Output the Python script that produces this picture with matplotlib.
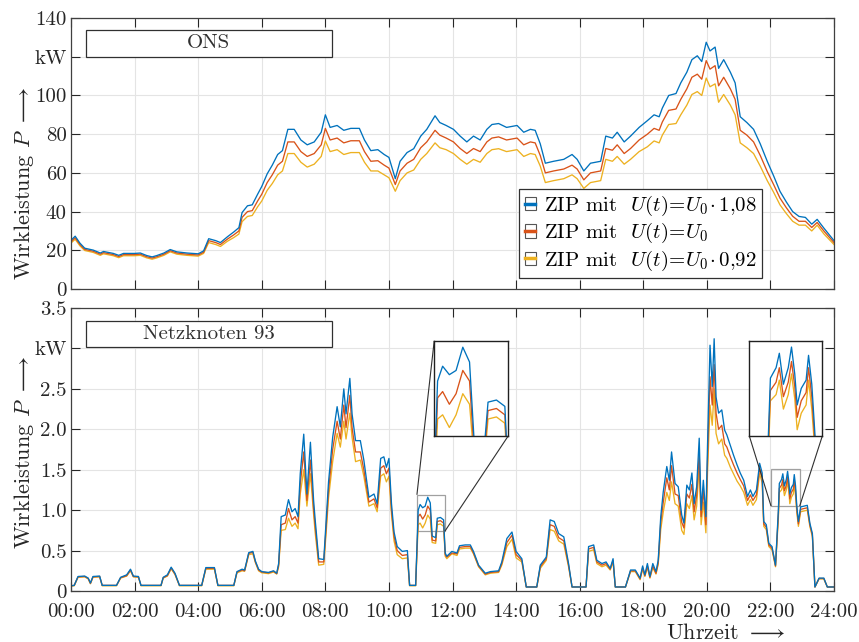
import matplotlib
matplotlib.use("Agg")
import matplotlib.pyplot as plt
from matplotlib.patches import Rectangle
from matplotlib.lines import Line2D
from matplotlib.legend_handler import HandlerBase
from mpl_toolkits.axes_grid1.inset_locator import mark_inset

plt.rcParams['font.family'] = 'cmr10'
plt.rcParams['mathtext.fontset'] = 'cm'
plt.rcParams['axes.unicode_minus'] = False
plt.rcParams['axes.formatter.use_mathtext'] = True

BLAU = '#0072BD'
ORANGE = '#D95319'
GELB = '#EDB120'

# --- ONS (oben), Zeit in Stunden, Leistung in kW ---
ons_t = [0, 0.13, 0.28, 0.43, 0.7, 0.92, 1.02, 1.33, 1.5, 1.65, 2.0, 2.18, 2.38, 2.55, 2.7, 2.92,
         3.12, 3.33, 3.65, 4.0, 4.17, 4.33, 4.55, 4.7, 4.92, 5.12, 5.28, 5.38, 5.55, 5.7, 5.87, 6.0,
         6.17, 6.33, 6.5, 6.65, 6.82, 7.02, 7.23, 7.43, 7.65, 7.87, 8.0, 8.15, 8.37, 8.58, 8.8, 9.07,
         9.23, 9.43, 9.65, 9.85, 10.0, 10.2, 10.35, 10.57, 10.78, 11.0, 11.19, 11.45, 11.6, 11.8, 12.03, 12.24,
         12.45, 12.66, 12.87, 13.08, 13.24, 13.45, 13.7, 14.03, 14.24, 14.45, 14.6, 14.76, 14.92, 15.18, 15.5, 15.76,
         15.92, 16.13, 16.34, 16.66, 16.82, 17.03, 17.18, 17.4, 17.6, 17.87, 18.13, 18.34, 18.5, 18.6, 18.8, 19.03,
         19.18, 19.37, 19.53, 19.7, 19.84, 19.98, 20.1, 20.26, 20.37, 20.53, 20.74, 20.89, 21.05, 21.26, 21.47, 21.68,
         21.9, 22.1, 22.3, 22.5, 22.7, 22.9, 23.1, 23.3, 23.47, 23.68, 24.0]
ons_u108 = [25.2, 27.3, 23.7, 21.1, 20.1, 18.6, 19.4, 18.4, 17.4, 18.4, 18.4, 18.6, 17.3, 16.6, 17.3, 18.6,
            20.4, 19.2, 18.6, 18.2, 19.7, 26.0, 25.0, 24.0, 27.0, 29.5, 31.7, 39.5, 43.0, 43.5, 49, 53,
            59.5, 64, 69.5, 71.5, 82.5, 82.5, 77, 74.5, 76, 81, 90, 83.5, 84.5, 82, 83, 83,
            77, 71.5, 72, 69.5, 68, 57, 66, 70.5, 72.5, 79, 82.5, 89.5, 86, 84.5, 82.5, 79,
            76, 79, 77, 82.5, 85, 85.5, 83.5, 84.5, 81, 82.5, 82, 75, 65, 66, 67, 69.5,
            67, 61, 65, 66, 79, 78, 81, 76, 79, 83.5, 87, 90, 89, 93.5, 100, 101,
            106.5, 112, 118.5, 120.5, 117.5, 127.5, 123, 125, 114, 118.5, 112, 106.5, 89, 86, 82.5, 75,
            66, 58.5, 50.5, 45, 40, 37.5, 37, 33.5, 36, 31.5, 25]
ons_u100 = [24.5, 26.5, 23, 20.5, 19.5, 18, 18.8, 17.8, 16.8, 17.8, 17.8, 18, 16.7, 16, 16.7, 18,
            19.8, 18.6, 18, 17.6, 19, 25, 24, 23, 25.8, 28, 30, 37, 40, 40.5, 45.5, 49,
            55, 59, 64, 66, 76, 76, 71, 68.5, 70, 74.5, 83, 77, 78, 75.5, 76.6, 76.6,
            71, 66, 66.3, 64, 62.5, 54, 61, 65, 67, 73, 76, 82, 79.5, 78, 76, 72.6,
            70, 72.6, 71, 76, 78, 78.6, 77, 78, 74.5, 76, 75.5, 69, 60, 61, 62, 64,
            62, 56.4, 60, 61, 72.6, 71.7, 74.5, 70, 72.6, 77, 80, 83, 82, 86.3, 92.3, 93,
            98, 103.4, 109.4, 111, 108.4, 118, 113.6, 115.4, 105, 109.4, 103.4, 98, 82, 79.5, 76, 69,
            60.7, 54, 47, 42, 37.6, 35, 35, 31.8, 34.4, 30, 24]
ons_u092 = [23.8, 25.7, 22.3, 19.9, 18.9, 17.4, 18.2, 17.2, 16.2, 17.2, 17.2, 17.4, 16.1, 15.4, 16.1, 17.4,
            19.2, 18.0, 17.4, 17.0, 18.4, 24.0, 23.0, 22.0, 24.7, 26.6, 28.4, 34.8, 37.5, 38, 42.5, 45.5,
            51, 54.5, 59, 61, 70, 70, 65.5, 63, 64.5, 68.5, 76.5, 71, 72, 69.5, 70.5, 70.5,
            65.5, 61, 61, 59, 57.5, 50.5, 56, 60, 61.5, 67, 70, 75.5, 73, 72, 70, 67,
            64.5, 67, 65.5, 70, 72, 72.5, 71, 72, 68.5, 70, 69.5, 63.5, 55, 56, 57, 59,
            57, 52, 55, 56, 67, 66, 68.5, 64.5, 67, 71, 73.5, 76.5, 75.5, 79.5, 85, 85.5,
            90, 95, 100.5, 102, 100, 109, 104.5, 106, 96.5, 100.5, 95, 90, 75.5, 73, 70, 63.5,
            56, 50, 43.5, 39, 35, 33, 33, 30, 33, 28.5, 23]

# --- Netzknoten 93 (unten) ---
nk_t = [0.0, 0.1, 0.22, 0.43, 0.54, 0.61, 0.69, 0.9, 0.98, 1.43, 1.56, 1.75, 1.87, 1.96, 2.12, 2.2,
        2.83, 2.9, 3.03, 3.15, 3.27, 3.41, 4.11, 4.24, 4.51, 4.62, 5.12, 5.22, 5.38, 5.46, 5.59, 5.72,
        5.8, 5.9, 6.0, 6.21, 6.37, 6.47, 6.53, 6.61, 6.74, 6.84, 6.95, 7.05, 7.14, 7.21, 7.32, 7.42,
        7.53, 7.63, 7.68, 7.79, 7.95, 8.03, 8.1, 8.23, 8.37, 8.47, 8.58, 8.65, 8.77, 8.84, 8.95, 9.1,
        9.21, 9.37, 9.53, 9.63, 9.74, 9.84, 9.92, 10.0, 10.08, 10.16, 10.26, 10.42, 10.58, 10.65, 10.84, 10.92,
        10.98, 11.06, 11.14, 11.22, 11.3, 11.36, 11.47, 11.52, 11.62, 11.72, 11.77, 11.82, 11.98, 12.14, 12.22, 12.4,
        12.56, 12.66, 12.82, 13.03, 13.19, 13.45, 13.55, 13.71, 13.87, 14.0, 14.18, 14.32, 14.65, 14.76, 14.95, 15.07,
        15.2, 15.34, 15.5, 15.65, 15.76, 16.2, 16.28, 16.44, 16.54, 16.7, 16.83, 16.96, 17.05, 17.12, 17.44, 17.6,
        17.75, 17.9, 17.98, 18.05, 18.13, 18.21, 18.3, 18.4, 18.47, 18.55, 18.63, 18.74, 18.82, 18.89, 19.0, 19.1,
        19.21, 19.28, 19.37, 19.45, 19.53, 19.6, 19.68, 19.76, 19.82, 19.89, 19.97, 20.02, 20.1, 20.17, 20.23, 20.29,
        20.37, 20.47, 20.56, 20.63, 20.74, 20.84, 20.95, 21.05, 21.16, 21.28, 21.37, 21.45, 21.56, 21.66, 21.74, 21.79,
        21.87, 21.95, 22.05, 22.16, 22.25, 22.28, 22.35, 22.39, 22.44, 22.5, 22.54, 22.58, 22.61, 22.66, 22.72, 22.75,
        22.79, 22.83, 22.88, 22.95, 23.16, 23.24, 23.32, 23.4, 23.53, 23.68, 23.79, 24.0]
nk_u108 = [0.065, 0.07, 0.18, 0.185, 0.16, 0.10, 0.18, 0.185, 0.07, 0.07, 0.17, 0.2, 0.27, 0.185, 0.18, 0.07,
           0.07, 0.17, 0.2, 0.295, 0.22, 0.07, 0.07, 0.29, 0.29, 0.07, 0.07, 0.24, 0.27, 0.26, 0.475, 0.49,
           0.37, 0.27, 0.24, 0.23, 0.25, 0.22, 0.34, 0.92, 0.94, 1.13, 0.98, 1.02, 0.92, 1.45, 1.94, 1.2,
           1.84, 1.12, 0.88, 0.40, 0.39, 0.9, 1.35, 1.9, 2.28, 2.03, 2.5, 2.19, 2.63, 2.19, 1.86, 1.86,
           1.62, 1.16, 1.2, 1.08, 1.64, 1.66, 1.53, 1.64, 1.08, 0.73, 0.55, 0.49, 0.5, 0.07, 0.07, 1.0,
           1.07, 1.03, 1.05, 1.16, 1.09, 0.68, 0.66, 0.9, 0.91, 0.88, 0.47, 0.43, 0.49, 0.47, 0.56, 0.57,
           0.57, 0.49, 0.32, 0.22, 0.24, 0.25, 0.36, 0.65, 0.73, 0.49, 0.4, 0.05, 0.05, 0.32, 0.42, 0.88,
           0.86, 0.71, 0.67, 0.34, 0.05, 0.05, 0.55, 0.57, 0.38, 0.34, 0.36, 0.28, 0.40, 0.05, 0.05, 0.26,
           0.26, 0.16, 0.31, 0.2, 0.34, 0.18, 0.34, 0.24, 0.38, 0.92, 1.23, 1.54, 1.37, 1.72, 1.33, 1.29,
           0.94, 0.84, 1.31, 1.25, 1.46, 1.08, 1.29, 1.89, 1.0, 1.37, 0.92, 1.78, 3.04, 2.53, 3.12, 2.4,
           2.2, 2.24, 1.99, 1.93, 1.8, 1.68, 1.56, 1.46, 1.37, 1.17, 1.25, 1.17, 1.25, 1.58, 1.46, 0.86,
           0.82, 0.59, 0.55, 0.32, 1.0, 1.33, 1.38, 1.45, 1.3, 1.38, 1.48, 1.35, 1.2, 1.28, 1.32, 1.44,
           1.3, 1.05, 0.86, 1.04, 1.06, 0.84, 0.71, 0.05, 0.16, 0.16, 0.05, 0.05]
nk_u100 = [0.065, 0.07, 0.175, 0.18, 0.155, 0.095, 0.175, 0.18, 0.07, 0.07, 0.165, 0.19, 0.26, 0.18, 0.175, 0.07,
           0.07, 0.165, 0.19, 0.285, 0.21, 0.07, 0.07, 0.28, 0.28, 0.07, 0.07, 0.235, 0.26, 0.25, 0.465, 0.48,
           0.36, 0.26, 0.235, 0.225, 0.245, 0.215, 0.32, 0.82, 0.84, 1.02, 0.88, 0.92, 0.84, 1.32, 1.72, 1.12,
           1.62, 1.02, 0.8, 0.36, 0.36, 0.82, 1.25, 1.75, 2.1, 1.88, 2.3, 2.02, 2.42, 2.02, 1.72, 1.72,
           1.5, 1.1, 1.14, 1.03, 1.52, 1.55, 1.45, 1.52, 1.0, 0.68, 0.5, 0.44, 0.45, 0.07, 0.07, 0.92,
           0.95, 0.89, 0.94, 1.05, 1.0, 0.63, 0.62, 0.86, 0.87, 0.84, 0.45, 0.42, 0.47, 0.46, 0.54, 0.55,
           0.55, 0.47, 0.31, 0.21, 0.23, 0.24, 0.34, 0.6, 0.69, 0.45, 0.38, 0.05, 0.05, 0.3, 0.4, 0.82,
           0.8, 0.66, 0.62, 0.32, 0.05, 0.05, 0.52, 0.54, 0.36, 0.32, 0.34, 0.27, 0.38, 0.05, 0.05, 0.25,
           0.25, 0.15, 0.29, 0.19, 0.31, 0.17, 0.31, 0.22, 0.35, 0.85, 1.1, 1.4, 1.25, 1.55, 1.2, 1.18,
           0.85, 0.78, 1.2, 1.15, 1.32, 0.98, 1.18, 1.7, 0.92, 1.25, 0.82, 1.6, 2.65, 2.3, 2.8, 2.2,
           2.0, 2.05, 1.82, 1.78, 1.66, 1.56, 1.46, 1.38, 1.3, 1.12, 1.19, 1.12, 1.19, 1.52, 1.4, 0.83,
           0.79, 0.57, 0.53, 0.31, 0.95, 1.27, 1.31, 1.38, 1.24, 1.31, 1.41, 1.29, 1.14, 1.22, 1.26, 1.38,
           1.24, 1.01, 0.83, 1.01, 1.03, 0.82, 0.69, 0.05, 0.155, 0.155, 0.05, 0.05]
nk_u092 = [0.06, 0.065, 0.17, 0.175, 0.15, 0.09, 0.17, 0.175, 0.065, 0.065, 0.16, 0.185, 0.25, 0.175, 0.17, 0.065,
           0.065, 0.16, 0.185, 0.275, 0.205, 0.065, 0.065, 0.27, 0.27, 0.065, 0.065, 0.225, 0.25, 0.245, 0.45, 0.46,
           0.35, 0.25, 0.225, 0.215, 0.235, 0.21, 0.3, 0.75, 0.76, 0.9, 0.8, 0.84, 0.77, 1.2, 1.5, 1.05,
           1.45, 0.95, 0.72, 0.32, 0.33, 0.75, 1.15, 1.6, 1.95, 1.78, 2.1, 1.88, 2.2, 1.9, 1.6, 1.62,
           1.42, 1.05, 1.08, 0.98, 1.42, 1.45, 1.35, 1.42, 0.95, 0.62, 0.45, 0.4, 0.41, 0.065, 0.065, 0.82,
           0.84, 0.78, 0.84, 0.94, 0.89, 0.6, 0.59, 0.82, 0.83, 0.8, 0.43, 0.4, 0.46, 0.44, 0.52, 0.53,
           0.53, 0.46, 0.3, 0.2, 0.22, 0.23, 0.32, 0.55, 0.64, 0.41, 0.36, 0.05, 0.05, 0.28, 0.38, 0.76,
           0.74, 0.62, 0.58, 0.3, 0.05, 0.05, 0.49, 0.51, 0.34, 0.3, 0.32, 0.26, 0.36, 0.05, 0.05, 0.24,
           0.24, 0.14, 0.27, 0.18, 0.29, 0.16, 0.29, 0.21, 0.33, 0.76, 0.98, 1.22, 1.12, 1.35, 1.08, 1.05,
           0.75, 0.7, 1.08, 1.02, 1.18, 0.88, 1.05, 1.55, 0.82, 1.1, 0.72, 1.45, 2.3, 2.05, 2.5, 1.95,
           1.82, 1.88, 1.68, 1.64, 1.53, 1.45, 1.36, 1.3, 1.22, 1.06, 1.13, 1.06, 1.13, 1.45, 1.34, 0.8,
           0.76, 0.55, 0.51, 0.3, 0.9, 1.22, 1.25, 1.32, 1.18, 1.25, 1.35, 1.23, 1.08, 1.16, 1.2, 1.32,
           1.18, 0.97, 0.8, 0.98, 1.0, 0.8, 0.67, 0.05, 0.15, 0.15, 0.05, 0.05]

stunden = list(range(0, 25, 2))
stunden_labels = ['%02d:00' % h for h in stunden]
ons_yticks = [0, 20, 40, 60, 80, 100, 120, 140]
ons_ylabels = ['0', '20', '40', '60', '80', '100', 'kW', '140']
nk_yticks = [0, 0.5, 1.0, 1.5, 2.0, 2.5, 3.0, 3.5]
nk_ylabels = ['0', '0.5', '1.0', '1.5', '2.0', '2.5', 'kW', '3.5']

legend_labels = [r'ZIP mit  $U(t)\!=\!U_0\!\cdot 1{,}08$',
                 r'ZIP mit  $U(t)\!=\!U_0$',
                 r'ZIP mit  $U(t)\!=\!U_0\!\cdot 0{,}92$']
farben = [BLAU, ORANGE, GELB]

FS = 15  # Schriftgroesse Ticks / Legende


class BoxHandler(HandlerBase):
    # kleines Kaestchen mit farbigem Strich, wie im MATLAB-Export
    def create_artists(self, legend, orig, xd, yd, w, h, fontsize, trans):
        r = Rectangle((-xd, -yd), w, h, fc='white', ec='#555555', lw=0.8, transform=trans)
        l = Line2D([-xd + 0.5, -xd + w - 0.5], [-yd + h / 2] * 2, color=orig.get_color(),
                   lw=2.5, transform=trans)
        return [r, l]


def stil(ax):
    ax.set_xlim(0, 24)
    ax.set_xticks(stunden)
    ax.grid(True, color='#e4e4e4', lw=0.8)
    ax.set_axisbelow(True)
    ax.tick_params(direction='in', length=6.5, width=0.8, top=True, right=True,
                   labelsize=FS, colors='#262626', pad=3)
    ax.tick_params(axis='x', pad=9)
    for s in ax.spines.values():
        s.set_color('#404040')
        s.set_linewidth(0.9)


def zeichne(ax, t, s1, s2, s3, lw=0.95):
    # gelb zuerst, blau liegt oben
    ax.plot(t, s3, color=GELB, lw=lw)
    ax.plot(t, s2, color=ORANGE, lw=lw)
    ax.plot(t, s1, color=BLAU, lw=lw)


def titelbox(ax, text, y0, y1):
    ax.add_patch(Rectangle((0.0197, y0), 0.322, y1 - y0, transform=ax.transAxes,
                           fc='white', ec='#303030', lw=0.9, zorder=5))
    ax.text(0.0197 + 0.161, (y0 + y1) / 2, text, transform=ax.transAxes,
            ha='center', va='center', fontsize=FS, color='#303030', zorder=6)


def ylabel(ax, yc):
    ax.text(-0.0616, yc, r'Wirkleistung $P$ $\longrightarrow$', transform=ax.transAxes,
            rotation=90, ha='center', va='center', fontsize=16, color='#262626')


fig = plt.figure(figsize=(8.59, 6.42), dpi=100)
ax1 = fig.add_axes([0.0827, 0.5498, 0.8882, 0.4221])
ax2 = fig.add_axes([0.0827, 0.0794, 0.8882, 0.4408])

# --- oben: ONS ---
stil(ax1)
zeichne(ax1, ons_t, ons_u108, ons_u100, ons_u092)
ax1.set_ylim(0, 140)
ax1.set_yticks(ons_yticks)
ax1.set_yticklabels(ons_ylabels)
ax1.set_xticklabels([])
ylabel(ax1, 0.39)
titelbox(ax1, 'ONS', 0.856, 0.956)

handles = [Line2D([0], [0], color=c) for c in farben]
leg = ax1.legend(handles, legend_labels, handler_map={Line2D: BoxHandler()},
                 loc='lower right', bbox_to_anchor=(0.906, 0.041), fontsize=FS,
                 handlelength=0.55, handleheight=0.6, handletextpad=0.4,
                 borderpad=0.25, labelspacing=0.15, fancybox=False, framealpha=1,
                 edgecolor='#303030', borderaxespad=0)
leg.get_frame().set_linewidth(0.9)

# --- unten: Netzknoten 93 ---
stil(ax2)
zeichne(ax2, nk_t, nk_u108, nk_u100, nk_u092)
ax2.set_ylim(0, 3.5)
ax2.set_yticks(nk_yticks)
ax2.set_yticklabels(nk_ylabels)
ax2.set_xticklabels(stunden_labels)
ylabel(ax2, 0.49)
ax2.text(0.858, -0.148, r'Uhrzeit $\longrightarrow$', transform=ax2.transAxes,
         ha='center', va='center', fontsize=16, color='#262626')
titelbox(ax2, 'Netzknoten 93', 0.861, 0.955)

# Zoom-Fenster
for pos, xl, yl, locs in [([0.476, 0.548, 0.097, 0.336], (10.88, 11.76), (0.74, 1.19), (2, 4)),
                          ([0.889, 0.548, 0.0957, 0.336], (22.02, 22.92), (1.05, 1.51), (3, 4))]:
    ins = ax2.inset_axes(pos)
    zeichne(ins, nk_t, nk_u108, nk_u100, nk_u092)
    ins.set_xlim(*xl)
    ins.set_ylim(*yl)
    ins.set_xticks([])
    ins.set_yticks([])
    for s in ins.spines.values():
        s.set_color('#202020')
        s.set_linewidth(1.0)
    pp, c1, c2 = mark_inset(ax2, ins, loc1=locs[0], loc2=locs[1], fc='none', ec='#a0a0a0', lw=0.9)
    for c in (c1, c2):
        c.set_edgecolor('#303030')
        c.set_linewidth(0.8)

fig.savefig('out.png', dpi=100)
